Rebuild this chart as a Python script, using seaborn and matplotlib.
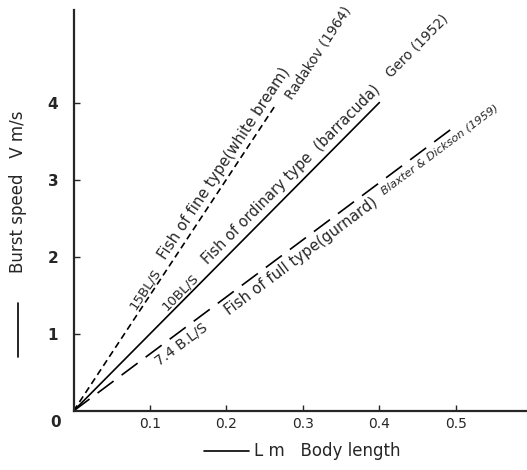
import numpy as np
import pandas as pd
import matplotlib
matplotlib.use('Agg')
import matplotlib.pyplot as plt
import seaborn as sns

# burst speed lines: end points (start at origin)
rates = ['15BL/S', '10BL/S', '7.4 B.L/S']
len_end = [0.265, 0.40, 0.50]
speed_end = [3.98, 4.00, 3.70]
styles = [(0, (4, 2.5)), '-', (0, (12, 6))]

fish = ['Fish of fine type(white bream)',
        'Fish of ordinary type  (barracuda)',
        'Fish of full type(gurnard)']
refs = ['Radakov (1964)', 'Gero (1952)', 'Blaxter & Dickson (1959)']

xticks = [0.1, 0.2, 0.3, 0.4, 0.5]
yticks = [1, 2, 3, 4]

sns.set_style('ticks')
plt.rcParams['font.family'] = ['DejaVu Sans']

W, H = 527, 470
fig = plt.figure(figsize=(W / 100, H / 100), dpi=100)
ax = fig.add_axes([73.5 / W, 1 - 411 / H, 1 - 73.5 / W, (411 - 10) / H])

for i in range(3):
    d = pd.DataFrame({'L': [0, len_end[i]], 'V': [0, speed_end[i]]})
    sns.lineplot(data=d, x='L', y='V', ax=ax, color='black', linewidth=1.2,
                 linestyle=styles[i])

ax.set_xlim(0, 0.593)
ax.set_ylim(0, 5.2)
ax.set_xticks(xticks)
ax.set_xticklabels(['0.1', '0.2', '0.3', '0.4', '0.5'], fontsize=10)
ax.set_yticks(yticks)
ax.set_yticklabels([str(t) for t in yticks], fontsize=11, fontweight='bold')
ax.tick_params(axis='x', direction='in', length=4, width=1, pad=4)
ax.tick_params(axis='y', direction='in', length=4, width=1, pad=11)
for s in ['top', 'right']:
    ax.spines[s].set_visible(False)
for s in ['left', 'bottom']:
    ax.spines[s].set_linewidth(1.6)
ax.set_xlabel('')
ax.set_ylabel('')
ax.annotate('0', xy=(0, 0), xytext=(-13, -8), textcoords='offset points',
            ha='center', va='center', fontsize=11, fontweight='bold')


def along(i, x0, txt, off, size, va='bottom', style='normal'):
    slope = speed_end[i] / len_end[i]
    p0 = ax.transData.transform((0, 0))
    p1 = ax.transData.transform((1, slope))
    a = np.arctan2(p1[1] - p0[1], p1[0] - p0[0])
    ax.annotate(txt, xy=(x0, slope * x0),
                xytext=(-np.sin(a) * off, np.cos(a) * off),
                textcoords='offset points', rotation=np.degrees(a),
                rotation_mode='anchor', ha='left', va=va, fontsize=size,
                style=style)


# 15 BL/s
along(0, 0.085, rates[0], 1, 9.5)
along(0, 0.127, fish[0], 2.5, 10.8)
along(0, 0.274, refs[0], 0, 9.8, va='top')
# 10 BL/s
along(1, 0.126, rates[1], 1, 9.5)
along(1, 0.183, fish[1], 3, 10.5)
along(1, 0.424, refs[1], 4.5, 9.8)
# 7.4 BL/s
along(2, 0.10, rates[2], -3, 10, va='top')
along(2, 0.19, fish[2], -3.5, 10.8, va='top')
along(2, 0.396, refs[2], -3, 8.2, va='top', style='italic')

# axis titles with the little lines next to them
fig.text(18 / W, 1 - 192 / H, 'Burst speed   V m/s', rotation=90,
         ha='center', va='center', fontsize=12)
fig.add_artist(plt.Line2D([18 / W, 18 / W], [1 - 303 / H, 1 - 357 / H],
                          color='black', linewidth=1.2))
fig.add_artist(plt.Line2D([204 / W, 249 / W], [1 - 451 / H, 1 - 451 / H],
                          color='black', linewidth=1.2))
fig.text(254 / W, 1 - 451 / H, 'L m   Body length', ha='left', va='center',
         fontsize=12)

fig.savefig('out.png', dpi=100)
